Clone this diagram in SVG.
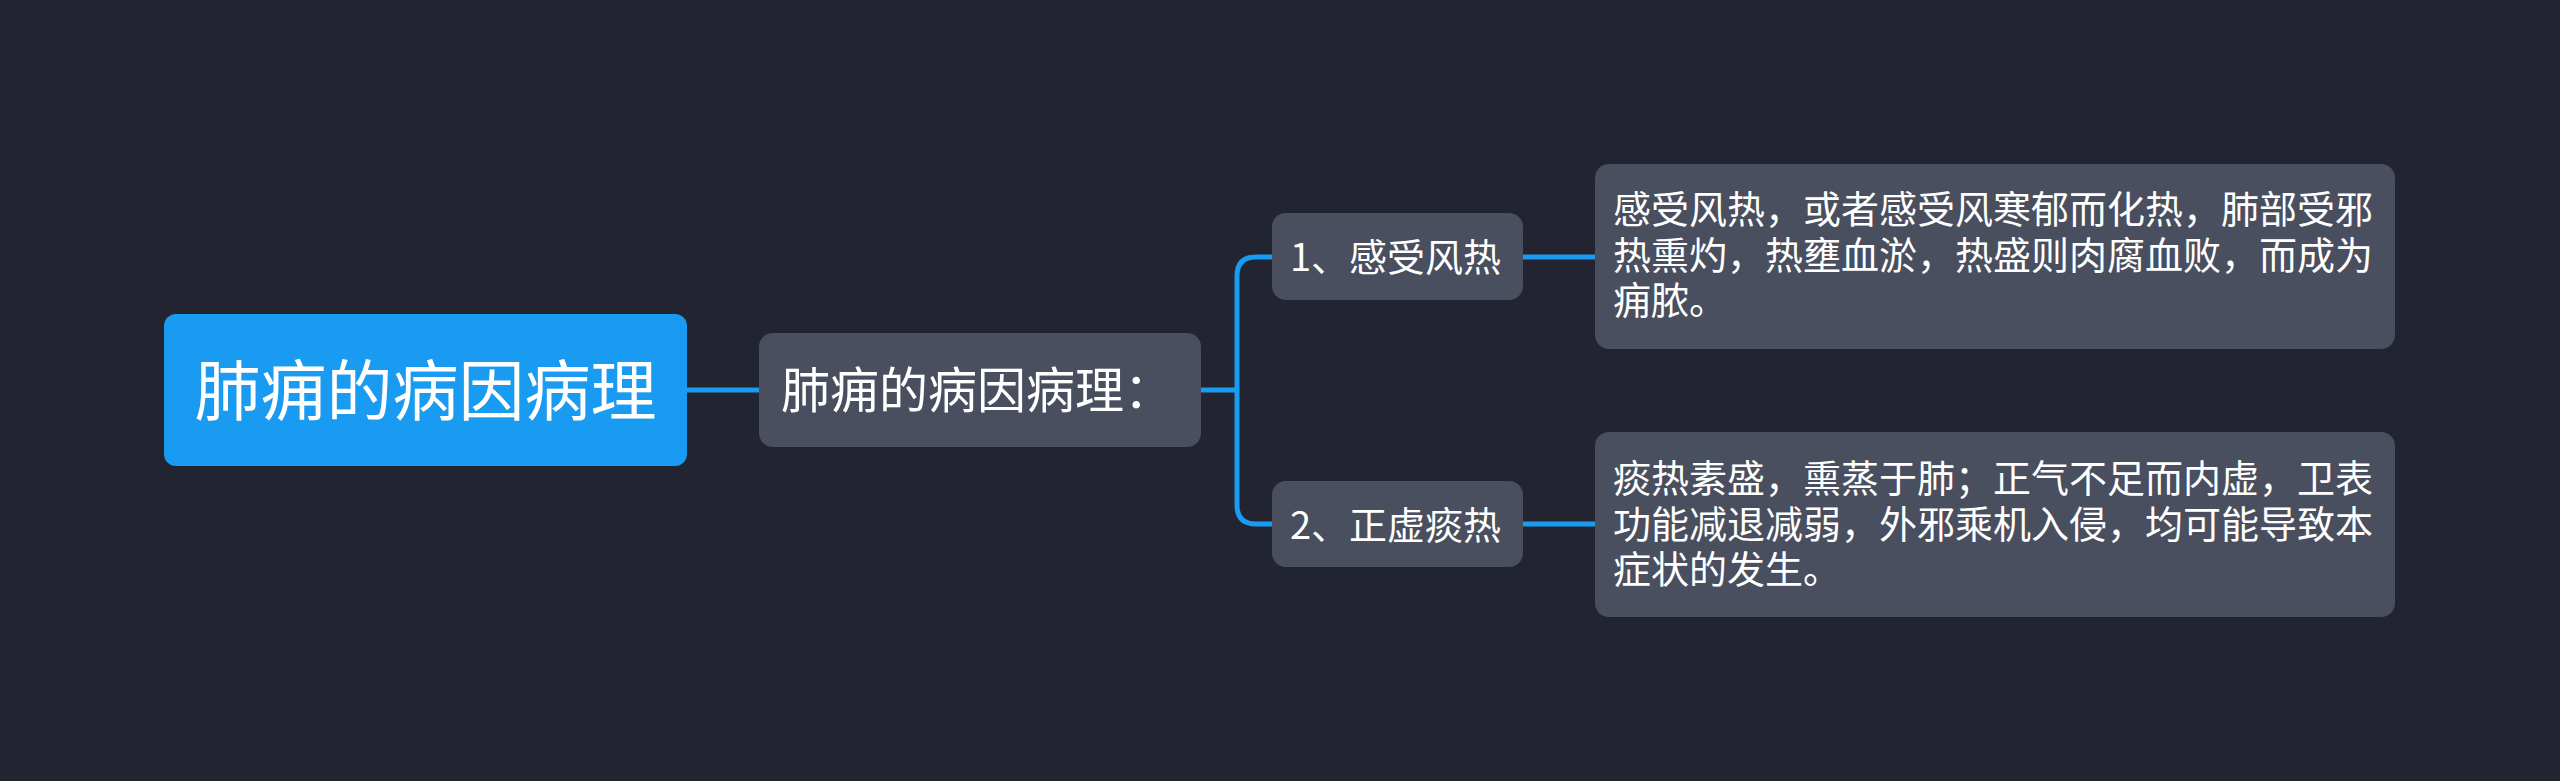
<svg xmlns="http://www.w3.org/2000/svg" width="2560" height="781" viewBox="0 0 2560 781">
<style>
.bg{fill:#222531}
.node{fill:#494f5e}
.root{fill:#189bf0}
.t{fill:#ffffff;font-family:"Noto Sans CJK SC","Noto Sans",sans-serif}
.conn{fill:none;stroke:#189bf0;stroke-width:5}
</style>
<rect class="bg" x="0" y="0" width="2560" height="781"/>
<g id="connectors">
<path class="conn" d="M687,390 H759"/>
<path class="conn" d="M1201,390 H1237"/>
<path class="conn" d="M1272,257 H1256 Q1237,257 1237,276 V505 Q1237,524 1256,524 H1272"/>
<path class="conn" d="M1523,257 H1595"/>
<path class="conn" d="M1523,524 H1595"/>
</g>
<g id="root">
<rect class="root" x="164" y="314" width="523" height="152" rx="12"/>
<text class="t" x="425.5" y="415" font-size="66" text-anchor="middle">肺痈的病因病理</text>
</g>
<g id="n-main">
<rect class="node" x="759" y="333" width="442" height="114" rx="14"/>
<text class="t" x="781" y="408" font-size="49">肺痈的病因病理：</text>
</g>
<g id="n1">
<rect class="node" x="1272" y="213" width="251" height="87" rx="14"/>
<text class="t" x="1290" y="271" font-size="38">1、感受风热</text>
</g>
<g id="n2">
<rect class="node" x="1272" y="481" width="251" height="86" rx="14"/>
<text class="t" x="1290" y="539" font-size="38">2、正虚痰热</text>
</g>
<g id="n1-detail">
<rect class="node" x="1595" y="164" width="800" height="185" rx="14"/>
<text class="t" font-size="38"><tspan x="1613" y="223">感受风热，或者感受风寒郁而化热，肺部受邪</tspan><tspan x="1613" y="268.5">热熏灼，热壅血淤，热盛则肉腐血败，而成为</tspan><tspan x="1613" y="314">痈脓。</tspan></text>
</g>
<g id="n2-detail">
<rect class="node" x="1595" y="432" width="800" height="185" rx="14"/>
<text class="t" font-size="38"><tspan x="1613" y="492">痰热素盛，熏蒸于肺；正气不足而内虚，卫表</tspan><tspan x="1613" y="537.5">功能减退减弱，外邪乘机入侵，均可能导致本</tspan><tspan x="1613" y="583">症状的发生。</tspan></text>
</g>
</svg>
